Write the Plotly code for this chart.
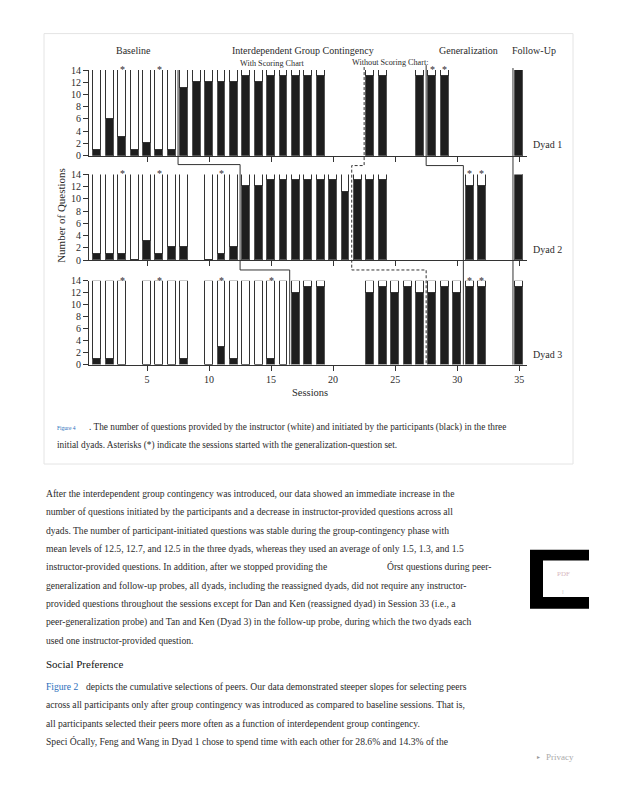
import plotly.graph_objects as go

# ---------------- data ----------------
sessions1 = [1, 2, 3, 4, 5, 6, 7, 8, 9, 10, 11, 12, 13, 14, 15, 16, 17, 18, 19, 23, 24, 27, 28, 29, 35]
participant1 = [1, 6, 3, 1, 2, 1, 1, 11, 12, 12, 12, 12, 13, 12, 13, 13, 13, 13, 13, 13, 13, 13, 13, 13, 14]
instructor1 = [13, 8, 11, 13, 12, 13, 13, 3, 2, 2, 2, 2, 1, 2, 1, 1, 1, 1, 1, 1, 1, 1, 1, 1, 0]

sessions2 = [1, 2, 3, 4, 5, 6, 7, 8, 10, 11, 12, 13, 14, 15, 16, 17, 18, 19, 20, 21, 22, 23, 24, 31, 32, 35]
participant2 = [1, 1, 1, 0, 3, 1, 2, 2, 0, 1, 2, 12, 12, 13, 13, 13, 13, 13, 13, 11, 13, 13, 13, 12, 12, 14]
instructor2 = [13, 13, 13, 14, 11, 13, 12, 12, 14, 13, 12, 2, 2, 1, 1, 1, 1, 1, 1, 3, 1, 1, 1, 2, 2, 0]

sessions3 = [1, 2, 3, 5, 6, 7, 8, 10, 11, 12, 13, 14, 15, 16, 17, 18, 19, 23, 24, 25, 26, 27, 28, 29, 30, 31, 32, 35]
participant3 = [1, 1, 0, 0, 0, 0, 1, 0, 3, 1, 0, 0, 1, 0, 12, 13, 13, 12, 13, 12, 13, 12, 12, 13, 12, 13, 13, 13]
instructor3 = [13, 13, 14, 14, 14, 14, 13, 14, 11, 13, 14, 14, 13, 14, 2, 1, 1, 2, 1, 2, 1, 2, 2, 1, 2, 1, 1, 1]

asterisks1 = [3, 6, 28, 29]
asterisks2 = [3, 6, 11, 31, 32]
asterisks3 = [3, 6, 11, 15, 31, 32]

# phase-change boundaries (between sessions) for Dyad 1, 2, 3
baseline_end = [7.5, 12.5, 16.5]
scoring_end = [22.5, 21.5, 27.5]
generalization_start = [27.5, 30.5, 30.5]
followup_start = 34.5

phase_labels = ["Baseline", "Interdependent Group Contingency", "Generalization", "Follow-Up"]
dyad_labels = ["Dyad 1", "Dyad 2", "Dyad 3"]
y_ticks = [0, 2, 4, 6, 8, 10, 12, 14]
x_ticks = [5, 10, 15, 20, 25, 30, 35]

# ---------------- layout helpers ----------------
W, H = 618, 800
def px(x):
    return x / W
def py(y):
    return 1 - y / H

SERIF = "Liberation Serif, Times New Roman, serif"
INK = "#2b2b2b"

panels = [(65, 152), (171, 258), (279, 364)]  # pixel top (14) and bottom (0)
x_dom = [px(89), px(527)]
x_rng = [0.32, 35.63]

fig = go.Figure()

data = [(sessions1, participant1, instructor1, asterisks1),
        (sessions2, participant2, instructor2, asterisks2),
        (sessions3, participant3, instructor3, asterisks3)]

annotations = []
for i, (s, p, ins, ast) in enumerate(data):
    xa = "x" if i == 0 else f"x{i+1}"
    ya = "y" if i == 0 else f"y{i+1}"
    fig.add_trace(go.Bar(x=s, y=p, xaxis=xa, yaxis=ya, width=0.64,
                         marker=dict(color="#1e1e1e", line=dict(color="#555", width=1)),
                         cliponaxis=False, showlegend=False, name="Participant"))
    fig.add_trace(go.Bar(x=s, y=ins, xaxis=xa, yaxis=ya, width=0.64,
                         marker=dict(color="white", line=dict(color="#333", width=1)),
                         cliponaxis=False, showlegend=False, name="Instructor"))
    for a in ast:
        annotations.append(dict(x=a, y=14, xref=xa, yref=ya, text="*", showarrow=False,
                                yanchor="bottom", yshift=-7,
                                font=dict(family=SERIF, size=10, color=INK)))

axis_common = dict(range=x_rng, domain=x_dom, showgrid=False, zeroline=False,
                   showline=True, linecolor="#333", linewidth=1,
                   ticks="outside", ticklen=5, tickcolor="#333",
                   tickvals=x_ticks, tickfont=dict(family=SERIF, size=10, color=INK))
yaxis_common = dict(range=[0, 14], showgrid=False, zeroline=False,
                    showline=True, linecolor="#333", linewidth=1,
                    ticks="outside", ticklen=5, tickcolor="#333",
                    tickvals=y_ticks, tickfont=dict(family=SERIF, size=10, color=INK))

layout_axes = {}
for i, (top, bot) in enumerate(panels):
    xk = "xaxis" if i == 0 else f"xaxis{i+1}"
    yk = "yaxis" if i == 0 else f"yaxis{i+1}"
    ya = "y" if i == 0 else f"y{i+1}"
    xa = "x" if i == 0 else f"x{i+1}"
    layout_axes[xk] = dict(axis_common, anchor=ya, showticklabels=(i == 2))
    layout_axes[yk] = dict(yaxis_common, anchor=xa, domain=[py(bot), py(top)])

# ---------------- phase lines ----------------
shapes = []
line_style = dict(color="#333", width=1)
b = baseline_end
shapes.append(dict(type="path", xref="x", yref="paper",
                   path=f"M {b[0]},{py(65)} L {b[0]},{py(161)} L {b[1]},{py(161)} L {b[1]},{py(268)} "
                        f"L {b[2]},{py(268)} L {b[2]},{py(364)}",
                   line=line_style))
d = scoring_end
shapes.append(dict(type="path", xref="x", yref="paper",
                   path=f"M {d[0]},{py(62)} L {d[0]},{py(162)} L {d[1]},{py(162)} L {d[1]},{py(268)} "
                        f"L {d[2]},{py(268)} L {d[2]},{py(364)}",
                   line=dict(color="#333", width=1, dash="3px,2px")))
g = generalization_start
shapes.append(dict(type="path", xref="x", yref="paper",
                   path=f"M {g[0]},{py(60)} L {g[0]},{py(162)} L {g[1]},{py(162)} L {g[1]},{py(268)} "
                        f"L {g[2]},{py(268)} L {g[2]},{py(364)}",
                   line=line_style))
shapes.append(dict(type="line", xref="x", yref="paper", x0=followup_start, x1=followup_start,
                   y0=py(63), y1=py(364), line=line_style))

# figure box
shapes.append(dict(type="rect", xref="paper", yref="paper", x0=px(44), x1=px(573), y0=py(465), y1=py(28),
                   line=dict(color="#e4e4e4", width=1), layer="below"))
# PDF widget
shapes.append(dict(type="rect", xref="paper", yref="paper", x0=px(530), x1=px(589), y0=py(612), y1=py(552),
                   line=dict(width=0), fillcolor="black"))
shapes.append(dict(type="rect", xref="paper", yref="paper", x0=px(543), x1=px(589), y0=py(600), y1=py(563),
                   line=dict(width=0), fillcolor="white"))

def txt(x, y, s, size=9, color=INK, xanchor="left", yanchor="middle", **kw):
    annotations.append(dict(x=px(x), y=py(y), xref="paper", yref="paper", text=s, showarrow=False,
                            xanchor=xanchor, yanchor=yanchor,
                            font=dict(family=SERIF, size=size, color=color), **kw))

# phase labels
txt(133, 45, phase_labels[0], 10, xanchor="center")
txt(303, 45, phase_labels[1], 10, xanchor="center")
txt(468, 45, phase_labels[2], 10, xanchor="center")
txt(534, 45, phase_labels[3], 10, xanchor="center")
txt(272, 58, "With Scoring Chart", 8.2, xanchor="center")
txt(390, 57, "Without Scoring Chart:", 8.2, xanchor="center")
for lab, yy in zip(dyad_labels, [141, 247, 354]):
    txt(531, yy, lab, 10)
txt(61, 212, "Number of Questions", 11, xanchor="center", textangle=-90)
txt(310, 392, "Sessions", 10.5, xanchor="center")

# caption
txt(55, 428, "Figure 4", 5.5, color="#2a6ebb")
txt(87, 428, ". The number of questions provided by the instructor (white) and initiated by the participants (black) in the three", 9.3)
txt(55, 446, "initial dyads. Asterisks (*) indicate the sessions started with the generalization-question set.", 9.3)

# body text
body = [
    "After the interdependent group contingency was introduced, our data showed an immediate increase in the",
    "number of questions initiated by the participants and a decrease in instructor-provided questions across all",
    "dyads. The number of participant-initiated questions was stable during the group-contingency phase with",
    "mean levels of 12.5, 12.7, and 12.5 in the three dyads, whereas they used an average of only 1.5, 1.3, and 1.5",
    "instructor-provided questions. In addition, after we stopped providing the",
    "generalization and follow-up probes, all dyads, including the reassigned dyads, did not require any instructor-",
    "provided questions throughout the sessions except for Dan and Ken (reassigned dyad) in Session 33 (i.e., a",
    "peer-generalization probe) and Tan and Ken (Dyad 3) in the follow-up probe, during which the two dyads each",
    "used one instructor-provided question.",
]
for k, line in enumerate(body):
    txt(44, 495 + 18.6 * k, line, 9.6)
txt(385, 495 + 18.6 * 4, "Órst questions during peer-", 9.6)

txt(44, 668, "Social Preference", 11, color="#111")
txt(44, 691, "Figure 2", 9.6, color="#2a6ebb")
txt(84, 691, "depicts the cumulative selections of peers. Our data demonstrated steeper slopes for selecting peers", 9.6)
txt(44, 709.5, "across all participants only after group contingency was introduced as compared to baseline sessions. That is,", 9.6)
txt(44, 728, "all participants selected their peers more often as a function of interdependent group contingency.", 9.6)
txt(44, 746.5, "Speci Ócally, Feng and Wang in Dyad 1 chose to spend time with each other for 28.6% and 14.3% of the", 9.6)

txt(535, 762, "▸", 6, color="#999")
txt(544, 762, "Privacy", 9, color="#aaa")
txt(563, 577, "PDF", 7, color="#d8b8c0", xanchor="center")
txt(563, 595, "⁞", 6, color="#bbb", xanchor="center")

fig.update_layout(width=W, height=H, autosize=False,
                  margin=dict(l=0, r=0, t=0, b=0),
                  paper_bgcolor="white", plot_bgcolor="rgba(0,0,0,0)",
                  barmode="stack", bargap=0, showlegend=False,
                  shapes=shapes, annotations=annotations, **layout_axes)

fig.write_html("out.html", config={"displayModeBar": False},
               post_script="document.body.style.margin='0';document.body.style.padding='0';")
